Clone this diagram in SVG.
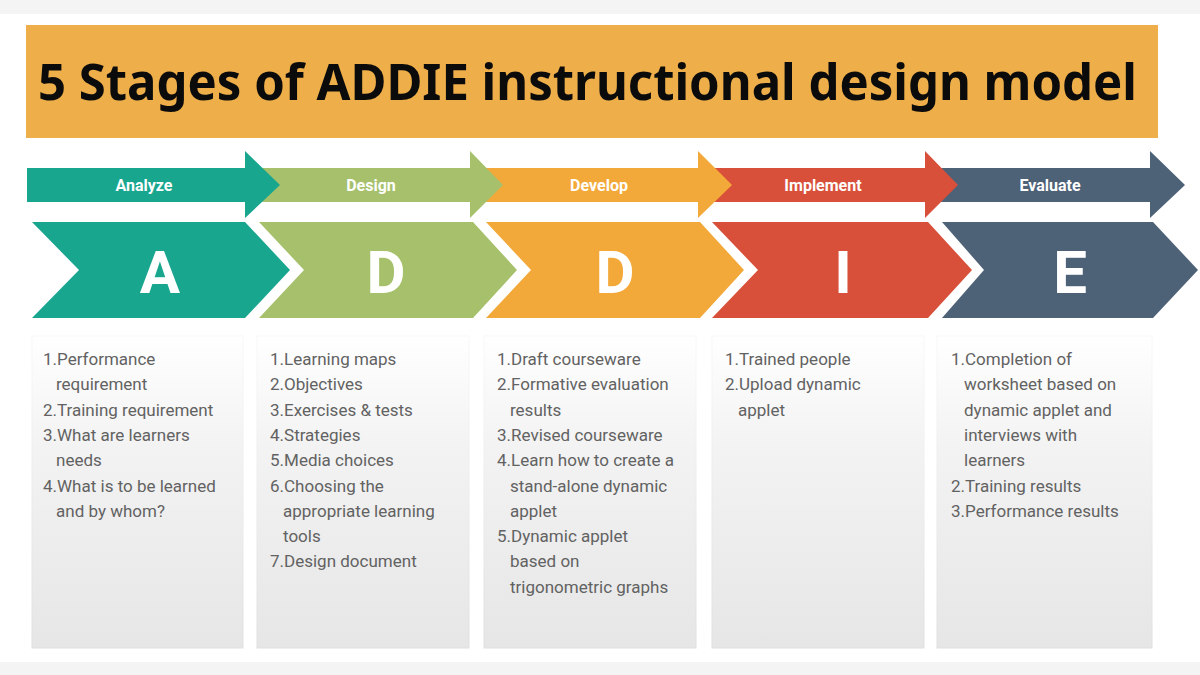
<svg xmlns="http://www.w3.org/2000/svg" width="1200" height="675" viewBox="0 0 1200 675">
  <defs>
    <linearGradient id="boxGrad" x1="0" y1="0" x2="0" y2="1">
      <stop offset="0" stop-color="#ffffff"/>
      <stop offset="0.35" stop-color="#f3f3f3"/>
      <stop offset="1" stop-color="#e6e6e6"/>
    </linearGradient>
    <linearGradient id="boxStroke" x1="0" y1="0" x2="0" y2="1">
      <stop offset="0" stop-color="#f8f8f8"/>
      <stop offset="1" stop-color="#e0e0e0"/>
    </linearGradient>
  </defs>
  <style>
    .title { font-family: "Noto Sans", "Open Sans", sans-serif; font-weight: 700; font-size: 50px; fill: #0b0b0b; }
    .phase { font-family: Roboto, "Liberation Sans", sans-serif; font-weight: 700; font-size: 16px; fill: #ffffff; text-anchor: middle; }
    .letter { font-family: Roboto, "Liberation Sans", sans-serif; font-weight: 700; font-size: 60px; fill: #ffffff; text-anchor: middle; }
    .item { font-family: Roboto, "Liberation Sans", sans-serif; font-size: 17px; fill: #626262; }
    .box { fill: url(#boxGrad); stroke: url(#boxStroke); stroke-width: 1; }
    .teal { fill: #18a68f; }
    .green { fill: #a6c06c; }
    .orange { fill: #f3a93a; }
    .red { fill: #d8503a; }
    .slate { fill: #4d6177; }
  </style>

  <rect x="0" y="0" width="1200" height="675" fill="#ffffff"/>
  <rect x="0" y="0" width="1200" height="14" fill="#f4f4f4"/>
  <rect x="0" y="662" width="1200" height="13" fill="#f4f4f4"/>

  <g id="title">
    <rect x="26" y="25" width="1132" height="113" fill="#eeae4a"/>
    <text class="title" x="38" y="100" textLength="1099" lengthAdjust="spacingAndGlyphs">5 Stages of ADDIE instructional design model</text>
  </g>

  <g id="phase-arrows">
    <g id="arrow-evaluate">
      <polygon class="slate" points="925,168 1150,168 1150,151 1185,185 1150,218 1150,202 925,202"/>
      <text class="phase" x="1050" y="191">Evaluate</text>
    </g>
    <g id="arrow-implement">
      <polygon class="red" points="698,168 925,168 925,151 958,185 925,218 925,202 698,202"/>
      <text class="phase" x="823" y="191">Implement</text>
    </g>
    <g id="arrow-develop">
      <polygon class="orange" points="470,168 698,168 698,151 732,185 698,218 698,202 470,202"/>
      <text class="phase" x="599" y="191">Develop</text>
    </g>
    <g id="arrow-design">
      <polygon class="green" points="245,168 470,168 470,151 503,185 470,218 470,202 245,202"/>
      <text class="phase" x="371" y="191">Design</text>
    </g>
    <g id="arrow-analyze">
      <polygon class="teal" points="27,168 245,168 245,151 280,185 245,218 245,202 27,202"/>
      <text class="phase" x="144" y="191">Analyze</text>
    </g>
  </g>

  <g id="node-analyze">
    <polygon class="teal" points="32,222 245,222 290,270 245,318 32,318 79,270"/>
    <text class="letter" x="160" y="293">A</text>
    <rect class="box" x="32" y="336" width="211" height="312"/>
    <text class="item">
      <tspan x="43" y="365">1.Performance</tspan>
      <tspan x="56" y="390">requirement</tspan>
      <tspan x="43" y="416">2.Training requirement</tspan>
      <tspan x="43" y="441">3.What are learners</tspan>
      <tspan x="56" y="466">needs</tspan>
      <tspan x="43" y="492">4.What is to be learned</tspan>
      <tspan x="56" y="517">and by whom?</tspan>
    </text>
  </g>

  <g id="node-design">
    <polygon class="green" points="259,222 473,222 517,270 473,318 259,318 304,270"/>
    <text class="letter" x="386" y="293">D</text>
    <rect class="box" x="257" y="336" width="212" height="312"/>
    <text class="item">
      <tspan x="270" y="365">1.Learning maps</tspan>
      <tspan x="270" y="390">2.Objectives</tspan>
      <tspan x="270" y="416">3.Exercises &amp; tests</tspan>
      <tspan x="270" y="441">4.Strategies</tspan>
      <tspan x="270" y="466">5.Media choices</tspan>
      <tspan x="270" y="492">6.Choosing the</tspan>
      <tspan x="283" y="517">appropriate learning</tspan>
      <tspan x="283" y="542">tools</tspan>
      <tspan x="270" y="567">7.Design document</tspan>
    </text>
  </g>

  <g id="node-develop">
    <polygon class="orange" points="486,222 700,222 744,270 700,318 486,318 531,270"/>
    <text class="letter" x="615" y="293">D</text>
    <rect class="box" x="484" y="336" width="212" height="312"/>
    <text class="item">
      <tspan x="497" y="365">1.Draft courseware</tspan>
      <tspan x="497" y="390">2.Formative evaluation</tspan>
      <tspan x="510" y="416">results</tspan>
      <tspan x="497" y="441">3.Revised courseware</tspan>
      <tspan x="497" y="466">4.Learn how to create a</tspan>
      <tspan x="510" y="492">stand-alone dynamic</tspan>
      <tspan x="510" y="517">applet</tspan>
      <tspan x="497" y="542">5.Dynamic applet</tspan>
      <tspan x="510" y="567">based on</tspan>
      <tspan x="510" y="593">trigonometric graphs</tspan>
    </text>
  </g>

  <g id="node-implement">
    <polygon class="red" points="712,222 928,222 972,270 928,318 712,318 758,270"/>
    <text class="letter" x="843" y="293">I</text>
    <rect class="box" x="712" y="336" width="212" height="312"/>
    <text class="item">
      <tspan x="725" y="365">1.Trained people</tspan>
      <tspan x="725" y="390">2.Upload dynamic</tspan>
      <tspan x="738" y="416">applet</tspan>
    </text>
  </g>

  <g id="node-evaluate">
    <polygon class="slate" points="942,222 1153,222 1198,270 1153,318 942,318 984,270"/>
    <text class="letter" x="1070" y="293">E</text>
    <rect class="box" x="937" y="336" width="215" height="312"/>
    <text class="item">
      <tspan x="951" y="365">1.Completion of</tspan>
      <tspan x="964" y="390">worksheet based on</tspan>
      <tspan x="964" y="416">dynamic applet and</tspan>
      <tspan x="964" y="441">interviews with</tspan>
      <tspan x="964" y="466">learners</tspan>
      <tspan x="951" y="492">2.Training results</tspan>
      <tspan x="951" y="517">3.Performance results</tspan>
    </text>
  </g>
</svg>
